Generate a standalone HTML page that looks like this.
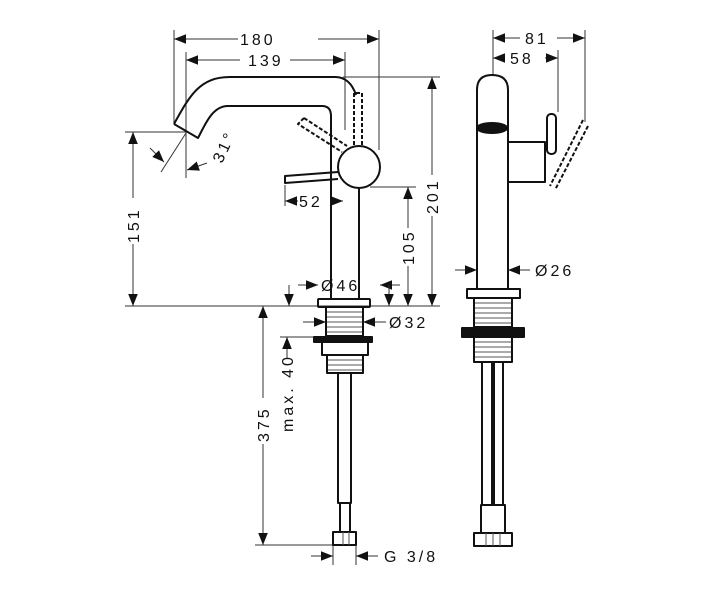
<!DOCTYPE html>
<html><head><meta charset="utf-8"><style>
html,body{margin:0;padding:0;background:#fff;width:706px;height:600px;overflow:hidden}
svg{display:block}
text{font-family:"Liberation Sans",sans-serif;font-size:16px;fill:#111;letter-spacing:3px}
</style></head><body>
<svg width="706" height="600" viewBox="0 0 706 600" xmlns="http://www.w3.org/2000/svg">
<defs>
<marker id="a" viewBox="0 0 10 10" refX="10" refY="5" markerWidth="12" markerHeight="12" markerUnits="userSpaceOnUse" orient="auto-start-reverse"><path d="M0,1 L10,5 L0,9 Z" fill="#111"/></marker>
</defs>
<g stroke="#333" stroke-width="1" fill="none">
<line x1="174" y1="30" x2="174" y2="124"/>
<line x1="379" y1="30" x2="379" y2="150"/>
<line x1="186" y1="52" x2="186" y2="178"/>
<line x1="345" y1="52" x2="345" y2="130"/>
<line x1="343" y1="77" x2="440" y2="77"/>
<line x1="370" y1="187" x2="416" y2="187"/>
<line x1="125" y1="132" x2="186" y2="132"/>
<line x1="125" y1="306" x2="440" y2="306"/>
<line x1="186" y1="133" x2="161" y2="172"/>
<line x1="285" y1="185" x2="285" y2="206"/>
<line x1="255" y1="545" x2="340" y2="545"/>
<line x1="280" y1="337" x2="318" y2="337"/>
<line x1="333" y1="545" x2="333" y2="565"/>
<line x1="356" y1="545" x2="356" y2="565"/>
<line x1="493" y1="30" x2="493" y2="75"/>
<line x1="585" y1="30" x2="585" y2="122"/>
<line x1="558" y1="50" x2="558" y2="112"/>
<line x1="174" y1="39" x2="238" y2="39" marker-start="url(#a)"/><line x1="318" y1="39" x2="379" y2="39" marker-end="url(#a)"/>
<line x1="186" y1="60" x2="240" y2="60" marker-start="url(#a)"/><line x1="290" y1="60" x2="345" y2="60" marker-end="url(#a)"/>
<line x1="432" y1="77" x2="432" y2="175" marker-start="url(#a)"/><line x1="432" y1="216" x2="432" y2="306" marker-end="url(#a)"/>
<line x1="408" y1="187" x2="408" y2="228" marker-start="url(#a)"/><line x1="408" y1="266" x2="408" y2="306" marker-end="url(#a)"/>
<line x1="133" y1="132" x2="133" y2="198" marker-start="url(#a)"/><line x1="133" y1="244" x2="133" y2="306" marker-end="url(#a)"/>
<line x1="285" y1="201" x2="298" y2="201" marker-start="url(#a)"/><line x1="332" y1="201" x2="343" y2="201" marker-end="url(#a)"/>
<line x1="150" y1="148" x2="164" y2="162" marker-end="url(#a)"/>
<line x1="207" y1="163" x2="187" y2="170" marker-end="url(#a)"/>
<line x1="298" y1="285" x2="318" y2="285" marker-end="url(#a)"/><line x1="400" y1="285" x2="380" y2="285" marker-end="url(#a)"/>
<line x1="289" y1="285" x2="289" y2="306" marker-end="url(#a)"/>
<line x1="389" y1="285" x2="389" y2="306" marker-end="url(#a)"/>
<line x1="263" y1="306" x2="263" y2="398" marker-start="url(#a)"/><line x1="263" y1="444" x2="263" y2="545" marker-end="url(#a)"/>
<line x1="287" y1="337" x2="287" y2="358" marker-start="url(#a)"/>
<line x1="303" y1="322" x2="326" y2="322" marker-end="url(#a)"/><line x1="386" y1="322" x2="363" y2="322" marker-end="url(#a)"/>
<line x1="311" y1="556" x2="333" y2="556" marker-end="url(#a)"/><line x1="378" y1="556" x2="356" y2="556" marker-end="url(#a)"/>
<line x1="493" y1="38" x2="520" y2="38" marker-start="url(#a)"/><line x1="557" y1="38" x2="585" y2="38" marker-end="url(#a)"/>
<line x1="493" y1="58" x2="505" y2="58" marker-start="url(#a)"/><line x1="545" y1="58" x2="558" y2="58" marker-end="url(#a)"/>
<line x1="455" y1="270" x2="477" y2="270" marker-end="url(#a)"/><line x1="530" y1="270" x2="508" y2="270" marker-end="url(#a)"/>
</g>
<g stroke="#111" stroke-width="2" fill="none" stroke-linejoin="round">
<path d="M174,124 C190,95 200,77 230,77 L335,77 Q350,77 356,95"/>
<path d="M174,124 L198,138 C205,125 212,106 228,106 L322,106 Q331,106 331,116 L331,299"/>
<line x1="359" y1="187" x2="359" y2="299"/>
<circle cx="359" cy="167" r="21" fill="#fff"/>
<path d="M338,172 L285,176 L285,183 L338,179"/>
<path d="M304,118 L298,124 L342,152 M304,118 L347,146" stroke-dasharray="4,2"/>
<path d="M354,145 L354,93 L362,93 L362,145" stroke-dasharray="4,2"/>
<rect x="318" y="299" width="52" height="8" rx="1"/>
<rect x="326" y="307" width="37" height="29" fill="#fff"/>
<rect x="314" y="337" width="58" height="5" fill="#111"/>
<rect x="322" y="342" width="46" height="13"/>
<rect x="327" y="355" width="36" height="18"/>
<rect x="338" y="373" width="13" height="130"/>
<rect x="340" y="503" width="10" height="29"/>
<rect x="333" y="532" width="23" height="13"/>
<path d="M477,289 L477,90 Q477,75 492,75 Q508,75 508,90 L508,289"/>
<ellipse cx="492" cy="128" rx="15" ry="5" fill="#111"/>
<rect x="508" y="142" width="37" height="40"/>
<rect x="547" y="114" width="9" height="40" rx="4" fill="#fff"/>
<path d="M583,120 L550,186 M588,126 L555,190" stroke-dasharray="4,2"/>
<rect x="467" y="289" width="53" height="9"/>
<rect x="474" y="298" width="38" height="29" fill="#fff"/>
<rect x="462" y="328" width="62" height="9" fill="#111"/>
<rect x="474" y="337" width="38" height="25"/>
<rect x="482" y="362" width="10" height="143"/>
<rect x="494" y="362" width="9" height="143"/>
<rect x="481" y="505" width="24" height="28"/>
<rect x="474" y="533" width="38" height="13"/>
</g>
<g stroke="#555" stroke-width="1">
<path d="M327,312H362M327,317H362M327,322H362M327,327H362M327,332H362M328,360H362M328,365H362M328,370H362"/>
<path d="M475,303H511M475,308H511M475,313H511M475,318H511M475,323H511M475,342H511M475,347H511M475,352H511M475,357H511"/>
<path d="M343,532V545M349,532V545M486,533V546M493,533V546M500,533V546"/>
</g>
<g fill="#111">
<text x="240" y="45">180</text>
<text x="248" y="66">139</text>
<text x="299" y="207">52</text>
<text x="321" y="291">Ø46</text>
<text x="389" y="328">Ø32</text>
<text x="384" y="562">G 3/8</text>
<text x="525" y="44">81</text>
<text x="510" y="64">58</text>
<text x="535" y="276">Ø26</text>
<text transform="translate(222,164) rotate(-65)">31°</text>
<text transform="translate(438,214) rotate(-90)">201</text>
<text transform="translate(414,265) rotate(-90)">105</text>
<text transform="translate(139,243) rotate(-90)">151</text>
<text transform="translate(269,442) rotate(-90)">375</text>
<text transform="translate(293,432) rotate(-90)">max. 40</text>
</g>
</svg>
</body></html>
